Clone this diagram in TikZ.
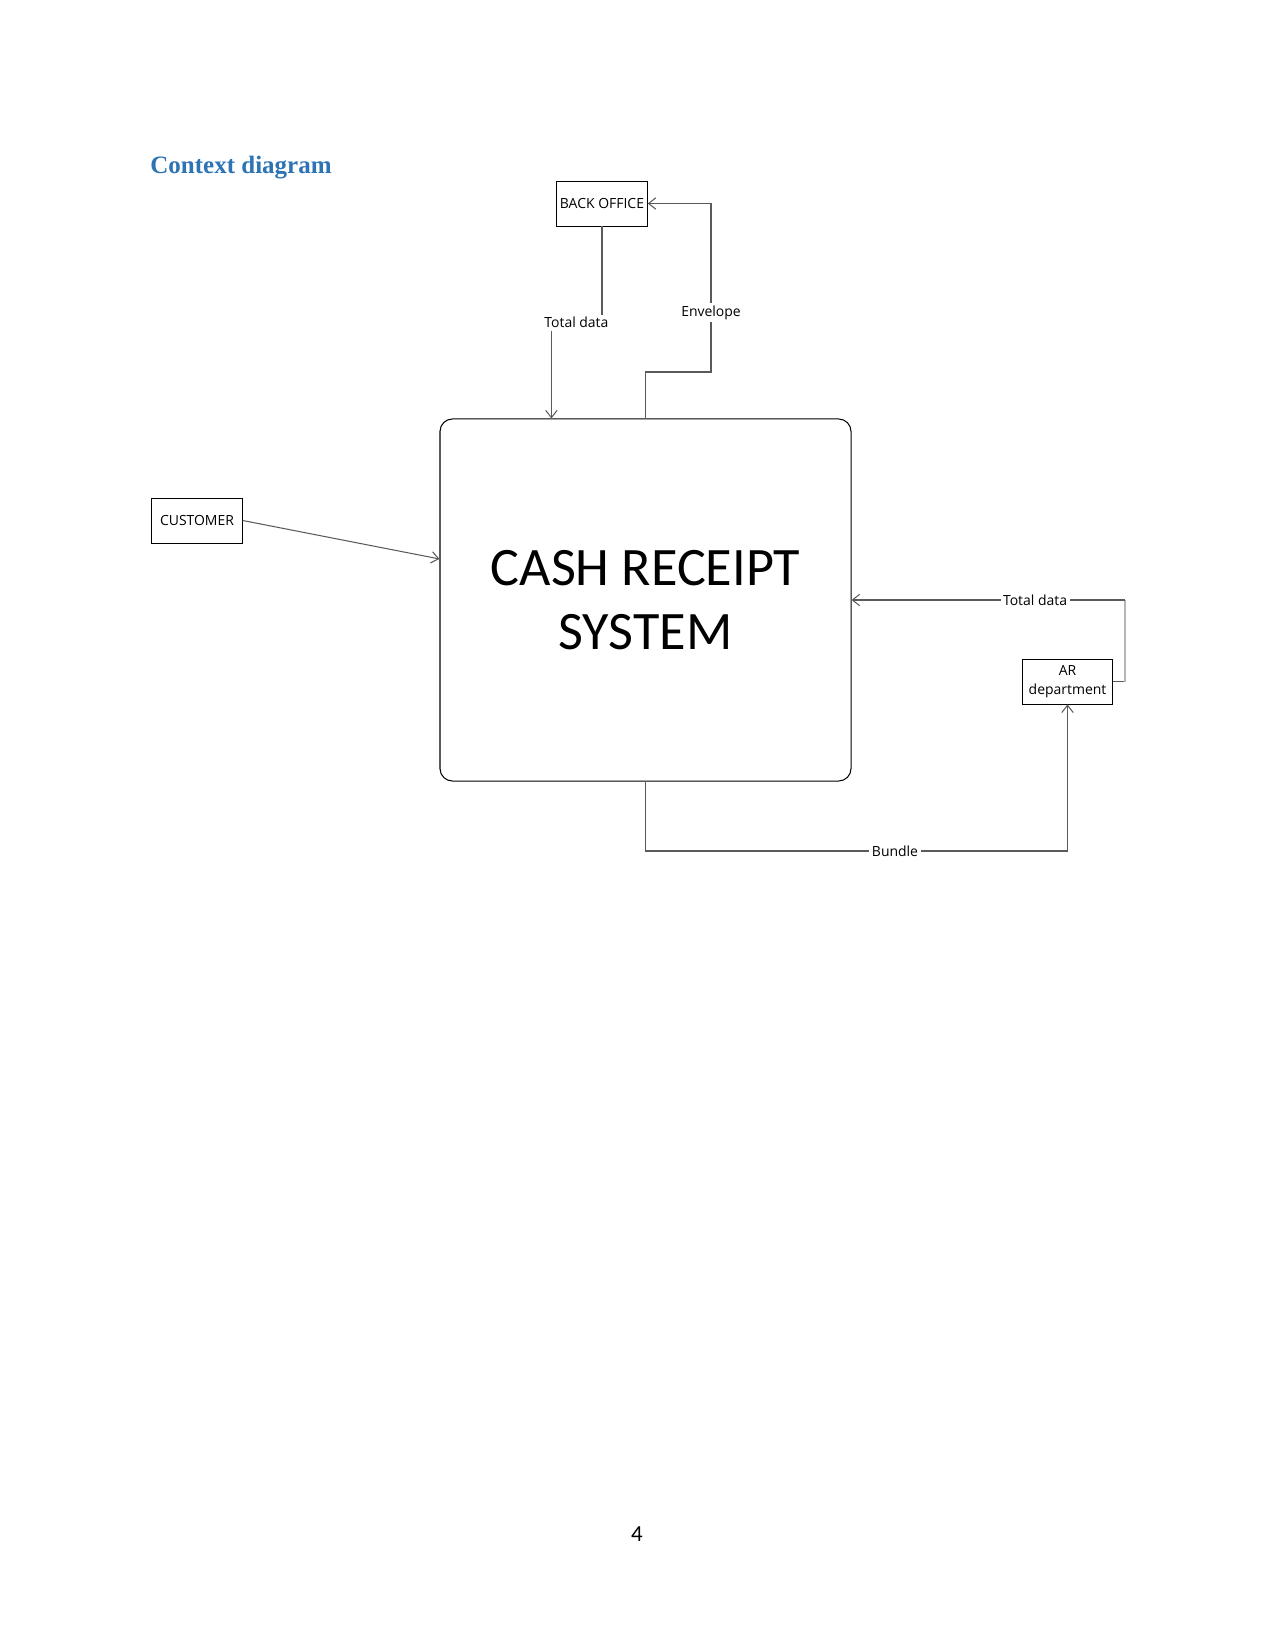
\documentclass[tikz,border=0pt]{standalone}
\usepackage{fontspec}
\setmainfont{Liberation Serif}
\newfontfamily\lblfont{Open Sans}
\newfontfamily\calfont{Carlito}
\usetikzlibrary{arrows.meta}
\definecolor{headblue}{HTML}{2E74B5}
\definecolor{conn}{HTML}{5A5A5A}
\begin{document}
\begin{tikzpicture}[x=0.48pt,y=-0.48pt,
  ent/.style={draw=black,line width=0.4pt,inner sep=0pt,minimum width=43.5pt,minimum height=21.6pt,font=\lblfont\fontsize{6.7}{9.2}\selectfont,align=center},
  flow/.style={draw=conn,line width=0.5pt},
  flowto/.style={flow,-{Straight Barb[length=3.5pt,width=5.5pt]}},
  lbl/.style={font=\lblfont\fontsize{6.7}{8.5}\selectfont,inner sep=1pt,fill=white}]
\useasboundingbox[fill=white] (0,0) rectangle (1275,1650);
\node[anchor=base west,font=\bfseries\fontsize{12}{14}\selectfont,text=headblue,inner sep=0pt] (title) at (150,174) {Context diagram};
\node[ent] (bo) at (602,203.5) {BACK OFFICE};
\node[ent] (cust) at (197,520.5) {CUSTOMER};
\node[ent] (ar) at (1067.5,681.5) {AR\\department};
\node[draw=black,line width=0.5pt,rounded corners=6pt,minimum width=197.3pt,minimum height=173.8pt,inner sep=0pt,
      font=\calfont\fontsize{26}{30.7}\selectfont,align=center] (crs) at (645.5,600) {CASH RECEIPT\\SYSTEM};
% Total data (back office -> system)
\node[lbl] (tdA) at (576.4,322.7) {Total data};
\coordinate (xA) at (551.4,0);
\draw[flow] (bo.south) -- (bo.south |- tdA.north);
\draw[flowto] (tdA.south -| xA) -- (crs.north -| xA);
% Envelope (system -> back office)
\node[lbl] (env) at (711,312.5) {Envelope};
\coordinate (envjog) at (711,372);
\draw[flow] (crs.north) |- (envjog) -- (env.south);
\draw[flowto] (env.north) |- (bo.east);
% Customer -> system
\draw[flowto] (cust.east) -- ([yshift=19.7pt]crs.west);
% Total data (AR -> system)
\node[lbl] (tdB) at (1035,600) {Total data};
\coordinate (rj) at (1125,600);
\draw[flow] (ar.east) -- (ar.east -| rj);
\draw[draw=conn!45,line width=0.5pt] (ar.east -| rj) -- (rj);
\draw[flow] (rj) -- (tdB.east);
\draw[flowto] (tdB.west) -- (crs.east |- tdB.west);
% Bundle (system -> AR)
\node[lbl] (bun) at (895,851) {Bundle};
\draw[flow] (crs.south) |- (bun.west);
\draw[flowto] (bun.east) -| (ar.south);
\node[font=\calfont\fontsize{11}{13}\selectfont,anchor=base,inner sep=0pt] (pg) at (637,1541) {4};
\end{tikzpicture}
\end{document}
